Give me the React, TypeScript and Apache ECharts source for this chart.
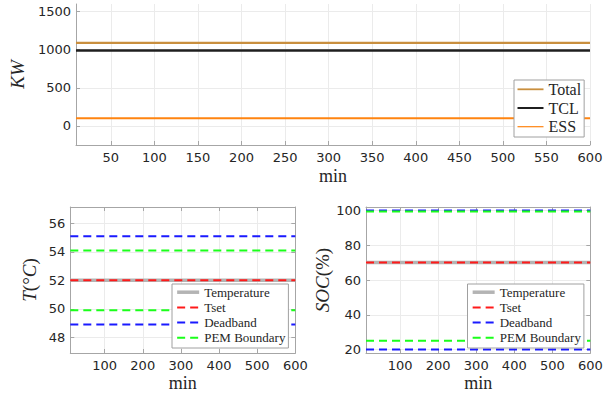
import React, { useEffect, useRef } from 'react';
import * as echarts from 'echarts';

// time axis (minutes)
const timeMin = [10, 600];
// top chart (KW)
const totalKW = [1090, 1090];
const tclKW = [990, 990];
const essKW = [100, 100];
// bottom-left chart (temperature, °C)
const temperatureC = [52, 52];
const tSetC = [52, 52];
const deadbandUpperC = [55.1, 55.1];
const deadbandLowerC = [48.9, 48.9];
const pemUpperC = [54.1, 54.1];
const pemLowerC = [49.9, 49.9];
// bottom-right chart (SOC, %)
const temperatureSOC = [70, 70];
const tSetSOC = [70, 70];
const deadbandUpperSOC = [100, 100];
const deadbandLowerSOC = [20, 20];
const pemUpperSOC = [99.4, 99.4];
const pemLowerSOC = [25, 25];

const topLegend = ['Total', 'TCL', 'ESS'];
const bottomLegend = ['Temperature', 'Tset', 'Deadband', 'PEM Boundary'];

const AXIS = '#a6a6a6';
const GRID = '#ebebeb';
const TXT = '#262626';
const SANS = 'DejaVu Sans';
const SERIF = 'Liberation Serif';

const C_TOTAL = '#c98f3e';
const C_TCL = '#1f1f1f';
const C_ESS = '#ff8410';
const C_TEMP = '#b4b4b4';
const C_SET = '#ff1a1a';
const C_DB = '#1a1aff';
const C_PEM = '#1aff1a';
const DASH = [8, 5];

export default function App() {
  const ref = useRef<HTMLDivElement>(null);

  useEffect(() => {
    const chart = echarts.init(ref.current!, undefined, { renderer: 'svg', width: 615, height: 397 });
    const pts = (ys: number[]) => timeMin.map((t, i) => [t, ys[i]]);

    const tickLabel = { fontFamily: SANS, fontSize: 13, color: TXT, formatter: (v: number) => String(v) };
    const nameStyle = (size: number, italic = false) => ({
      fontFamily: SERIF,
      fontSize: size,
      color: TXT,
      fontStyle: italic ? 'italic' : 'normal',
      rich: { i: { fontFamily: SERIF, fontSize: size, color: TXT, fontStyle: 'italic' } },
    });

    const mainX = (grid: number, step: number, name: string, gap: number) => ({
      type: 'value',
      gridIndex: grid,
      position: 'bottom',
      min: timeMin[0],
      max: timeMin[timeMin.length - 1],
      minInterval: step,
      maxInterval: step,
      axisLine: { show: true, onZero: false, lineStyle: { color: AXIS, width: 1 } },
      axisTick: { show: true, inside: true, length: 4, lineStyle: { color: AXIS } },
      axisLabel: { ...tickLabel, margin: 6, showMinLabel: false },
      splitLine: { show: true, showMinLine: false, lineStyle: { color: GRID, width: 1 } },
      name,
      nameLocation: 'middle',
      nameGap: gap,
      nameTextStyle: nameStyle(18),
    });
    const mainY = (grid: number, min: number, max: number, step: number, name: string, gap: number, italic: boolean) => ({
      type: 'value',
      gridIndex: grid,
      position: 'left',
      min,
      max,
      minInterval: step,
      maxInterval: step,
      axisLine: { show: true, onZero: false, lineStyle: { color: AXIS, width: 1 } },
      axisTick: { show: true, inside: true, length: 4, lineStyle: { color: AXIS } },
      axisLabel: { ...tickLabel, margin: 5, showMinLabel: false, showMaxLabel: false },
      splitLine: { show: true, showMinLine: false, showMaxLine: false, lineStyle: { color: GRID, width: 1 } },
      name,
      nameLocation: 'middle',
      nameGap: gap,
      nameTextStyle: nameStyle(19, italic),
    });
    const boxX = (grid: number, step: number) => ({
      type: 'value',
      gridIndex: grid,
      position: 'top',
      min: timeMin[0],
      max: timeMin[timeMin.length - 1],
      minInterval: step,
      maxInterval: step,
      axisLine: { show: true, onZero: false, lineStyle: { color: AXIS, width: 1 } },
      axisTick: { show: true, inside: true, length: 4, lineStyle: { color: AXIS } },
      axisLabel: { show: false },
      splitLine: { show: false },
    });
    const boxY = (grid: number, min: number, max: number, step: number) => ({
      type: 'value',
      gridIndex: grid,
      position: 'right',
      min,
      max,
      minInterval: step,
      maxInterval: step,
      axisLine: { show: true, onZero: false, lineStyle: { color: AXIS, width: 1 } },
      axisTick: { show: true, inside: true, length: 4, lineStyle: { color: AXIS } },
      axisLabel: { show: false },
      splitLine: { show: false },
    });

    const line = (name: string, data: number[], xi: number, yi: number, color: string, width: number, dashed = false, z = 2) => ({
      type: 'line',
      name,
      xAxisIndex: xi,
      yAxisIndex: yi,
      data: pts(data),
      symbol: 'none',
      showSymbol: false,
      silent: true,
      z,
      lineStyle: { color, width, type: dashed ? DASH : 'solid' },
      itemStyle: { color },
    });

    const bottomLegendData = [
      { name: bottomLegend[0], lineStyle: { width: 3.5, type: 'solid' } },
      { name: bottomLegend[1], lineStyle: { width: 2, type: DASH } },
      { name: bottomLegend[2], lineStyle: { width: 2, type: DASH } },
      { name: bottomLegend[3], lineStyle: { width: 2, type: DASH } },
    ];
    const bottomLegendBase = {
      orient: 'vertical',
      top: 284,
      itemWidth: 22,
      itemHeight: 10,
      itemGap: 2.2,
      padding: [1.7, 3, 3.7, 3.4],
      backgroundColor: '#ffffff',
      borderColor: '#a0a0a0',
      borderWidth: 1,
      borderRadius: 0,
      selectedMode: false,
      itemStyle: { opacity: 0 },
      textStyle: { fontFamily: SERIF, fontSize: 13, lineHeight: 12, color: TXT },
      data: bottomLegendData,
    };

    const option: any = {
      animation: false,
      backgroundColor: '#ffffff',
      grid: [
        { left: 70.5, top: 4, width: 519.5, height: 141 },
        { left: 70.3, top: 207, width: 225, height: 146 },
        { left: 366, top: 207, width: 224.3, height: 146 },
      ],
      xAxis: [
        mainX(0, 50, 'min', 22),
        mainX(1, 100, 'min', 21),
        boxX(1, 100),
        mainX(2, 100, 'min', 21),
        boxX(2, 100),
      ],
      yAxis: [
        mainY(0, -250, 1600, 500, 'KW', 44, true),
        mainY(1, 46.9, 57.15, 2, '{i|T}(°{i|C})', 31, false),
        boxY(1, 46.9, 57.15, 2),
        mainY(2, 18, 102, 20, '{i|SOC}(%)', 34, false),
        boxY(2, 18, 102, 20),
      ],
      legend: [
        {
          orient: 'vertical',
          left: 514,
          top: 80,
          itemWidth: 26,
          itemHeight: 14,
          itemGap: 2.7,
          padding: [1.3, 3, 2.3, 2.5],
          backgroundColor: '#ffffff',
          borderColor: '#a0a0a0',
          borderWidth: 1,
          borderRadius: 0,
          selectedMode: false,
          itemStyle: { opacity: 0 },
          textStyle: { fontFamily: SERIF, fontSize: 16, lineHeight: 16, color: TXT },
          data: [
            { name: topLegend[0], lineStyle: { width: 1.8, type: 'solid' } },
            { name: topLegend[1], lineStyle: { width: 2, type: 'solid' } },
            { name: topLegend[2], lineStyle: { width: 1.2, type: 'solid' } },
          ],
        },
        { ...bottomLegendBase, left: 172 },
        { ...bottomLegendBase, left: 467.5 },
      ],
      series: [
        line(topLegend[0], totalKW, 0, 0, C_TOTAL, 2.2),
        line(topLegend[1], tclKW, 0, 0, C_TCL, 2.4),
        line(topLegend[2], essKW, 0, 0, C_ESS, 2),

        line(bottomLegend[0], temperatureC, 1, 1, C_TEMP, 3.5),
        line(bottomLegend[1], tSetC, 1, 1, C_SET, 2, true, 3),
        line(bottomLegend[2], deadbandUpperC, 1, 1, C_DB, 2, true, 3),
        line(bottomLegend[2], deadbandLowerC, 1, 1, C_DB, 2, true, 3),
        line(bottomLegend[3], pemUpperC, 1, 1, C_PEM, 2, true, 3),
        line(bottomLegend[3], pemLowerC, 1, 1, C_PEM, 2, true, 3),

        line(bottomLegend[0], temperatureSOC, 3, 3, C_TEMP, 3.5),
        line(bottomLegend[1], tSetSOC, 3, 3, C_SET, 2, true, 3),
        line(bottomLegend[2], deadbandUpperSOC, 3, 3, C_DB, 2, true, 3),
        line(bottomLegend[2], deadbandLowerSOC, 3, 3, C_DB, 2, true, 3),
        line(bottomLegend[3], pemUpperSOC, 3, 3, C_PEM, 2, true, 3),
        line(bottomLegend[3], pemLowerSOC, 3, 3, C_PEM, 2, true, 3),
      ],
    };

    chart.setOption(option);
    return () => chart.dispose();
  }, []);

  return <div ref={ref} style={{ position: 'absolute', left: 0, top: 0, width: 615, height: 397 }} />;
}
